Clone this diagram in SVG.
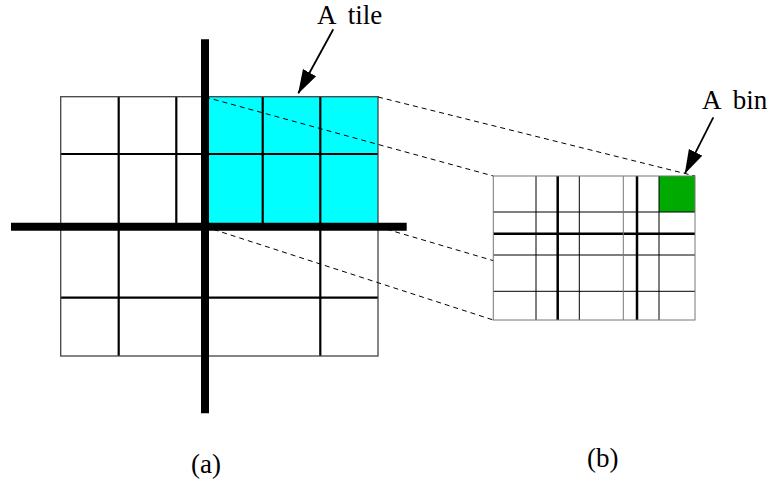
<svg xmlns="http://www.w3.org/2000/svg" width="775" height="481" viewBox="0 0 775 481">
<style>
.bg{fill:#fff}
.grid{stroke:#000;stroke-width:2.2;fill:none}
.border{stroke:#444;stroke-width:1.3;fill:none}
.thick{stroke:#000;stroke-width:8}
.sg{stroke:#000;stroke-width:1;fill:none}
.sgg{stroke:#777;stroke-width:1;fill:none}
.sgt{stroke:#000;stroke-width:2.5;fill:none}
.dash{stroke:#000;stroke-width:1;stroke-dasharray:5,4;fill:none}
.arrow{stroke:#000;stroke-width:1.8;fill:none}
.lbl{font-family:"Liberation Serif","Times New Roman","DejaVu Serif",serif;font-size:27px;fill:#000}
</style>
<defs>
<marker id="ah" markerUnits="userSpaceOnUse" markerWidth="24" markerHeight="16" viewBox="0 0 24 16" refX="23.5" refY="8" orient="auto">
<path d="M0,0.5 L24,8 L0,15.5 Z" fill="#000"/>
</marker>
</defs>
<rect class="bg" width="775" height="481"/>
<g id="tile-grid">
<rect x="60.7" y="96.7" width="317.3" height="259.3" fill="#fff"/>
<rect x="205" y="96.7" width="173" height="130" fill="#00ffff"/>
<line class="grid" x1="60.7" y1="154" x2="378" y2="154"/>
<line class="grid" x1="60.7" y1="297.7" x2="378" y2="297.7"/>
<line class="grid" x1="118.7" y1="96.7" x2="118.7" y2="356"/>
<line class="grid" x1="176.3" y1="96.7" x2="176.3" y2="226.7"/>
<line class="grid" x1="262.7" y1="96.7" x2="262.7" y2="226.7"/>
<line class="grid" x1="320.3" y1="96.7" x2="320.3" y2="356"/>
<rect class="border" x="60.7" y="96.7" width="317.3" height="259.3"/>
</g>
<g id="connectors">
<line class="dash" x1="205" y1="97" x2="493.3" y2="176"/>
<line class="dash" x1="378" y1="97" x2="695" y2="176"/>
<line class="dash" x1="205" y1="226.7" x2="493.3" y2="320"/>
<line class="dash" x1="378" y1="226.7" x2="695" y2="320"/>
<line class="arrow" x1="333.3" y1="29.3" x2="298.3" y2="93.3" marker-end="url(#ah)"/>
<line class="arrow" x1="713.3" y1="117.3" x2="685" y2="173.3" marker-end="url(#ah)"/>
</g>
<g id="partition-lines">
<line class="thick" x1="11" y1="226.7" x2="406.7" y2="226.7"/>
<line class="thick" x1="205" y1="39.3" x2="205" y2="413.3"/>
</g>
<g id="bin-grid">
<rect x="493.3" y="176" width="201.7" height="144" fill="#fff"/>
<rect x="659" y="176" width="36" height="36" fill="#00aa00"/>
<line class="sg" x1="493.3" y1="212" x2="695" y2="212"/>
<line class="sg" x1="493.3" y1="255" x2="695" y2="255"/>
<line class="sg" x1="493.3" y1="291.3" x2="695" y2="291.3"/>
<line class="sgt" x1="493.3" y1="233.7" x2="695" y2="233.7"/>
<line class="sg" x1="536" y1="176" x2="536" y2="320"/>
<line class="sg" x1="579.3" y1="176" x2="579.3" y2="320"/>
<line class="sgg" x1="623.3" y1="176" x2="623.3" y2="320"/>
<line class="sg" x1="659" y1="176" x2="659" y2="320"/>
<line class="sgt" x1="557.7" y1="176" x2="557.7" y2="320"/>
<line class="sgt" x1="637" y1="176" x2="637" y2="320"/>
<rect class="sgg" x="493.3" y="176" width="201.7" height="144"/>
</g>
<g id="labels">
<text class="lbl" x="317" y="24" word-spacing="6">A tile</text>
<text class="lbl" x="702" y="109" word-spacing="6">A bin</text>
<text class="lbl" x="191" y="472.5">(a)</text>
<text class="lbl" x="587" y="467">(b)</text>
</g>
</svg>
